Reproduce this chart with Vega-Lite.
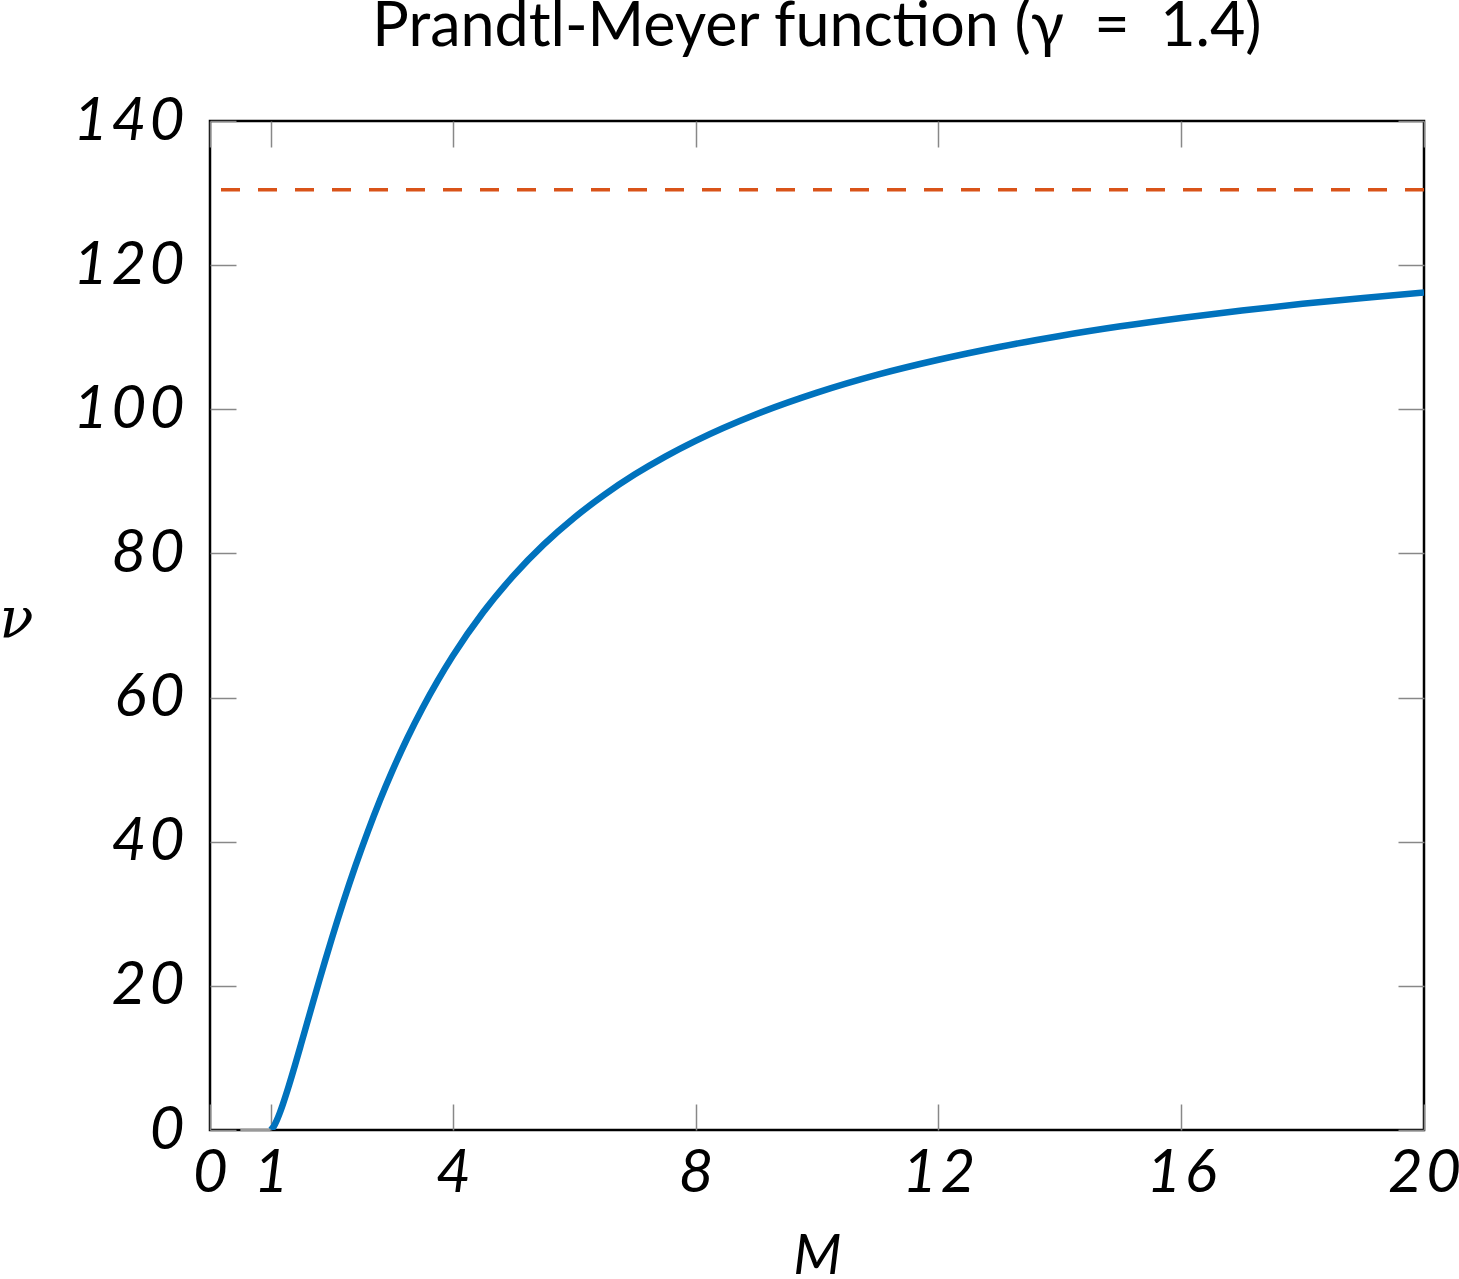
{
  "$schema": "https://vega.github.io/schema/vega-lite/v6.json",
  "autosize": "none",
  "width": 1214,
  "height": 1009,
  "padding": {"left": 210, "top": 121, "right": 35, "bottom": 149},
  "background": "white",
  "title": {
    "text": "Prandtl-Meyer function (γ\u2002=\u20021.4)",
    "font": "Lato",
    "fontSize": 61,
    "fontWeight": "normal",
    "color": "black",
    "anchor": "middle",
    "baseline": "alphabetic",
    "offset": -16
  },
  "config": {
    "view": {"stroke": "black", "strokeWidth": 2.5},
    "axis": {
      "grid": false,
      "domain": false,
      "tickColor": "#888888",
      "tickWidth": 1.5,
      "tickSize": -26,
      "labelFont": "Lato",
      "labelFontStyle": "italic",
      "labelFontSize": 60,
      "labelColor": "black",
      "labelFlush": false,
      "labelOverlap": false
    }
  },
  "datasets": {
    "pm": [
      {"M": 1.0, "nu": 0.0},
      {"M": 1.05, "nu": 0.487},
      {"M": 1.1, "nu": 1.336},
      {"M": 1.15, "nu": 2.381},
      {"M": 1.2, "nu": 3.558},
      {"M": 1.3, "nu": 6.17},
      {"M": 1.4, "nu": 8.987},
      {"M": 1.5, "nu": 11.905},
      {"M": 1.6, "nu": 14.861},
      {"M": 1.7, "nu": 17.81},
      {"M": 1.8, "nu": 20.725},
      {"M": 1.9, "nu": 23.586},
      {"M": 2.0, "nu": 26.38},
      {"M": 2.2, "nu": 31.732},
      {"M": 2.4, "nu": 36.746},
      {"M": 2.6, "nu": 41.415},
      {"M": 2.8, "nu": 45.751},
      {"M": 3.0, "nu": 49.757},
      {"M": 3.25, "nu": 54.36},
      {"M": 3.5, "nu": 58.53},
      {"M": 3.75, "nu": 62.32},
      {"M": 4.0, "nu": 65.785},
      {"M": 4.5, "nu": 71.834},
      {"M": 5.0, "nu": 76.92},
      {"M": 5.5, "nu": 81.25},
      {"M": 6.0, "nu": 84.956},
      {"M": 6.5, "nu": 88.16},
      {"M": 7.0, "nu": 90.973},
      {"M": 7.5, "nu": 93.44},
      {"M": 8.0, "nu": 95.625},
      {"M": 9.0, "nu": 99.318},
      {"M": 10.0, "nu": 102.316},
      {"M": 11.0, "nu": 104.81},
      {"M": 12.0, "nu": 106.874},
      {"M": 13.0, "nu": 108.65},
      {"M": 14.0, "nu": 110.177},
      {"M": 15.0, "nu": 111.51},
      {"M": 16.0, "nu": 112.677},
      {"M": 17.0, "nu": 113.7},
      {"M": 18.0, "nu": 114.634},
      {"M": 19.0, "nu": 115.45},
      {"M": 20.0, "nu": 116.202}
    ],
    "subsonic": [
      {"M": 0.5, "nu": 0},
      {"M": 1.0, "nu": 0}
    ],
    "limit": [
      {"nu_max": 130.454}
    ]
  },
  "layer": [
    {
      "data": {"name": "limit"},
      "mark": {"type": "rule", "color": "#D95319", "strokeWidth": 3.5, "strokeDash": [19, 18]},
      "encoding": {
        "y": {"field": "nu_max", "type": "quantitative", "axis": null}
      }
    },
    {
      "data": {"name": "pm"},
      "mark": {"type": "line", "color": "#0072BD", "strokeWidth": 6.5, "interpolate": "monotone", "clip": true},
      "encoding": {
        "x": {
          "field": "M",
          "type": "quantitative",
          "scale": {"domain": [0, 20], "nice": false},
          "axis": {
            "orient": "bottom",
            "values": [0, 1, 4, 8, 12, 16, 20],
            "labelPadding": 40,
            "labelExpr": "join(split(datum.label, ''), '\u200a')",
            "title": "M",
            "titleFont": "Lato",
            "titleFontStyle": "italic",
            "titleFontWeight": "normal",
            "titleFontSize": 56,
            "titleColor": "black",
            "titleBaseline": "alphabetic",
            "titleY": 143
          }
        },
        "y": {
          "field": "nu",
          "type": "quantitative",
          "scale": {"domain": [0, 140], "nice": false},
          "axis": {
            "orient": "left",
            "values": [0, 20, 40, 60, 80, 100, 120, 140],
            "labelPadding": 52,
            "labelExpr": "join(split(datum.label, ''), '\u200a')",
            "title": "ν",
            "titleFont": "DejaVu Serif",
            "titleFontStyle": "italic",
            "titleFontWeight": "normal",
            "titleFontSize": 56,
            "titleColor": "black",
            "titleAngle": 0,
            "titleAlign": "center",
            "titleBaseline": "alphabetic",
            "titleX": -194,
            "titleY": 515
          }
        }
      }
    },
    {
      "data": {"name": "subsonic"},
      "mark": {"type": "line", "color": "#999999", "strokeWidth": 2.5},
      "encoding": {
        "x": {
          "field": "M",
          "type": "quantitative",
          "axis": {"orient": "top", "values": [0, 1, 4, 8, 12, 16, 20], "labels": false, "title": null}
        },
        "y": {
          "field": "nu",
          "type": "quantitative",
          "axis": {"orient": "right", "values": [0, 20, 40, 60, 80, 100, 120, 140], "labels": false, "title": null}
        }
      }
    }
  ],
  "resolve": {"axis": {"x": "independent", "y": "independent"}}
}
